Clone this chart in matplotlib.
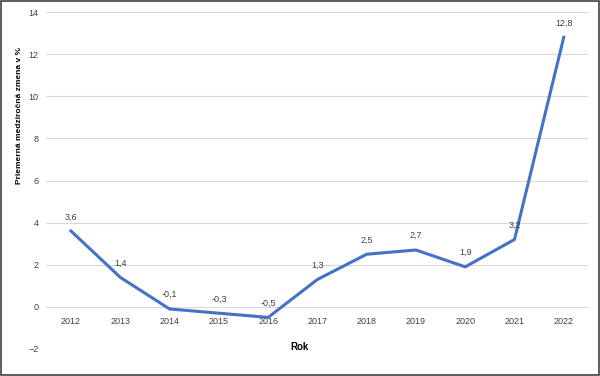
import matplotlib.pyplot as plt
from matplotlib.patches import Rectangle

years = ['2012', '2013', '2014', '2015', '2016', '2017', '2018', '2019', '2020', '2021', '2022']
values = [3.6, 1.4, -0.1, -0.3, -0.5, 1.3, 2.5, 2.7, 1.9, 3.2, 12.8]
labels = ['3,6', '1,4', '-0,1', '-0,3', '-0,5', '1,3', '2,5', '2,7', '1,9', '3,2', '12,8']

plt.rcParams['font.family'] = 'Liberation Sans'

fig = plt.figure(figsize=(6, 3.76), dpi=100)
ax = fig.add_axes([46.4 / 600, 1 - 349 / 376, 542 / 600, 337 / 376])

x = range(len(years))
ax.plot(x, values, color='#4472C4', linewidth=2.2, solid_joinstyle='round', zorder=3)
for xi, v, lab in zip(x, values, labels):
    ax.annotate(lab, (xi, v), xytext=(0, 7), textcoords='offset points',
                ha='center', va='bottom', fontsize=6.5, color='#404040')

ax.set_xlim(-0.5, len(years) - 0.5)
ax.set_ylim(-2, 14)
ax.set_yticks(range(-2, 15, 2))
ax.set_xticks(list(x))
ax.set_xticklabels(years)
ax.grid(axis='y', color='#d9d9d9', linewidth=0.8)
ax.set_axisbelow(True)
for s in ['top', 'right', 'left']:
    ax.spines[s].set_visible(False)
ax.spines['bottom'].set_position(('data', 0))
ax.spines['bottom'].set_visible(False)
ax.tick_params(axis='both', length=0, labelsize=6.5, labelcolor='#404040')
ax.tick_params(axis='x', pad=7)
ax.tick_params(axis='y', pad=5.5)

fig.text(0.5 + 46.4 / 1200 - 0.039, 1 - 347 / 376, 'Rok', ha='center', va='center',
         fontsize=7, fontweight='bold')
fig.text(20 / 600, 1 - 116 / 376, 'Priemerná medziročná zmena v %', rotation=90,
         ha='center', va='center', fontsize=6, fontweight='bold')

fig.patches.append(Rectangle((0.001, 0.002), 0.997, 0.996, transform=fig.transFigure,
                             fill=False, edgecolor='#404040', linewidth=1.2))

fig.savefig('out.png', dpi=100)
